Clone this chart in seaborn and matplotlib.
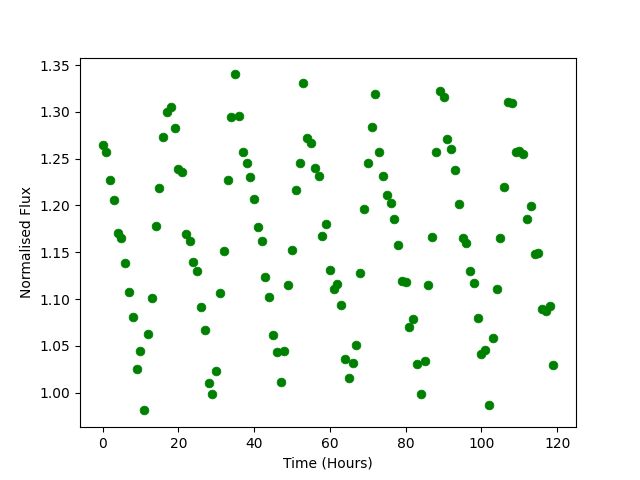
import numpy as np
import pandas as pd
import seaborn as sns
import matplotlib
matplotlib.use("Agg")
import matplotlib.pyplot as plt

# time in hours, one reading per hour
hours = list(range(120))

flux = [
    1.265, 1.257, 1.227, 1.206, 1.171, 1.165, 1.138, 1.107, 1.081, 1.025,
    1.045, 0.981, 1.063, 1.101, 1.178, 1.219, 1.273, 1.300, 1.305, 1.283,
    1.239, 1.236, 1.169, 1.162, 1.140, 1.130, 1.091, 1.067, 1.010, 0.999,
    1.023, 1.106, 1.151, 1.227, 1.295, 1.340, 1.296, 1.257, 1.245, 1.230,
    1.207, 1.177, 1.162, 1.124, 1.102, 1.062, 1.043, 1.011, 1.045, 1.115,
    1.152, 1.216, 1.245, 1.331, 1.272, 1.267, 1.240, 1.231, 1.167, 1.180,
    1.131, 1.111, 1.116, 1.094, 1.036, 1.016, 1.032, 1.051, 1.128, 1.196,
    1.245, 1.284, 1.319, 1.257, 1.231, 1.211, 1.203, 1.185, 1.158, 1.119,
    1.118, 1.070, 1.079, 1.031, 0.998, 1.034, 1.115, 1.166, 1.257, 1.322,
    1.316, 1.271, 1.260, 1.238, 1.201, 1.165, 1.160, 1.130, 1.117, 1.080,
    1.041, 1.046, 0.987, 1.058, 1.111, 1.165, 1.220, 1.311, 1.309, 1.257,
    1.258, 1.255, 1.185, 1.199, 1.148, 1.149, 1.089, 1.087, 1.093, 1.030,
]

df = pd.DataFrame({"time": hours, "flux": flux})

fig, ax = plt.subplots(figsize=(6.4, 4.8), dpi=100)

sns.scatterplot(data=df, x="time", y="flux", color="green",
                edgecolor="green", linewidth=0.5, s=40, ax=ax)

ax.set_xlabel("Time (Hours)")
ax.set_ylabel("Normalised Flux")

fig.savefig("out.png", dpi=100)
